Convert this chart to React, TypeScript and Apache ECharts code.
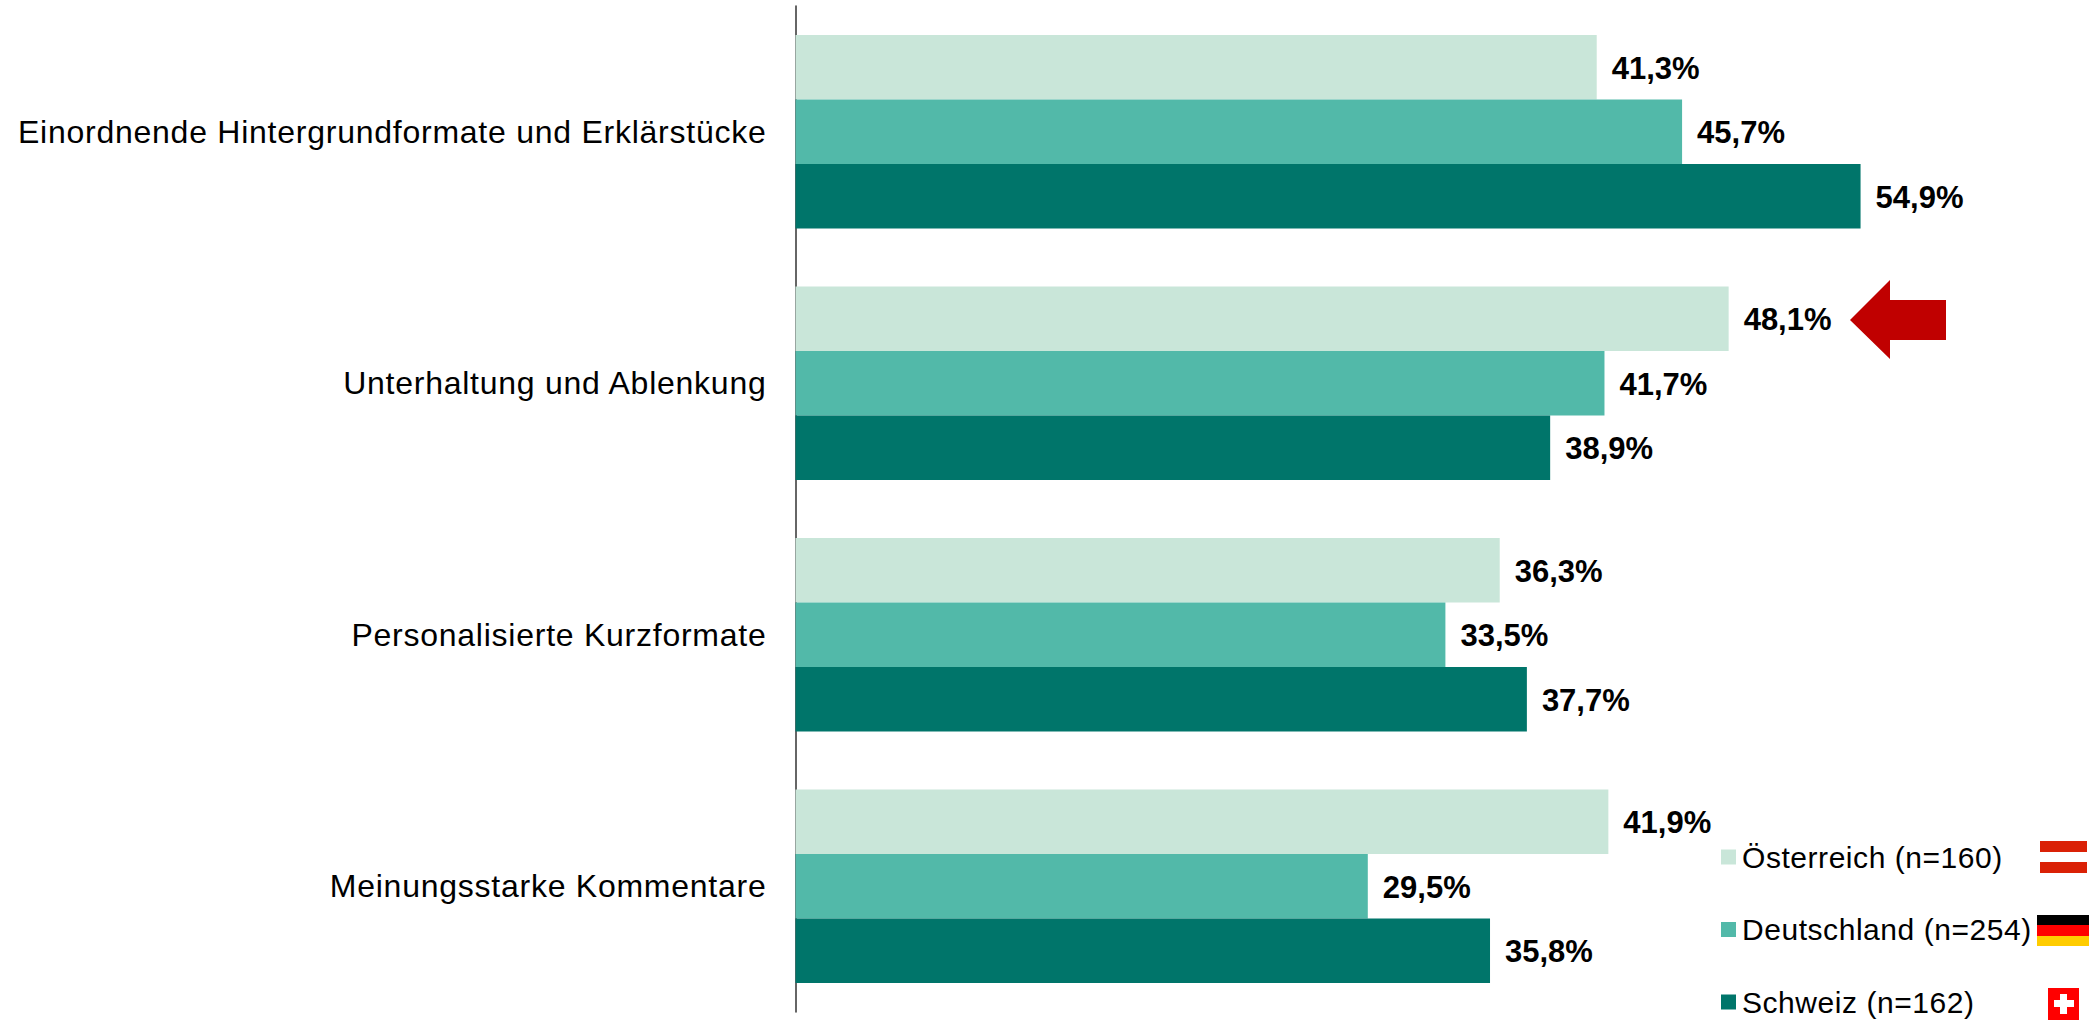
import React, { useEffect, useRef } from "react";
import * as echarts from "echarts";

const categories = [
  "Einordnende Hintergrundformate und Erklärstücke",
  "Unterhaltung und Ablenkung",
  "Personalisierte Kurzformate",
  "Meinungsstarke Kommentare",
];
const oesterreich = [41.3, 48.1, 36.3, 41.9];
const deutschland = [45.7, 41.7, 33.5, 29.5];
const schweiz = [54.9, 38.9, 37.7, 35.8];
const seriesNames = ["Österreich (n=160)", "Deutschland (n=254)", "Schweiz (n=162)"];
const colors = ["#C9E6D9", "#52B9A9", "#00756A"];
const FONT = "'Liberation Sans', Arial, sans-serif";

const fmt = (p: any) => p.value.toFixed(1).replace(".", ",") + "%";

function makeSeries(name: string, data: number[], color: string) {
  return {
    type: "bar",
    name,
    data,
    barGap: 0,
    barCategoryGap: "23%",
    itemStyle: { color },
    label: {
      show: true,
      position: "right",
      distance: 15,
      offset: [0, 1],
      formatter: fmt,
      color: "#000",
      fontFamily: FONT,
      fontWeight: "bold",
      fontSize: 31,
    },
  };
}

export default function App() {
  const ref = useRef<HTMLDivElement>(null);
  useEffect(() => {
    document.body.style.margin = "0";
    const chart = echarts.init(ref.current!, undefined, { renderer: "svg" });
    chart.setOption({
      animation: false,
      backgroundColor: "#fff",
      grid: { left: 795.5, top: 6, width: 1164, height: 1006, containLabel: false },
      xAxis: { type: "value", min: 0, max: 60, show: false },
      yAxis: {
        type: "category",
        inverse: true,
        data: categories,
        axisLine: { show: true, lineStyle: { color: "#333", width: 1.5 } },
        axisTick: { show: false },
        axisLabel: { margin: 29, color: "#000", fontFamily: FONT, fontSize: 32 },
      },
      legend: {
        orient: "vertical",
        left: 1721,
        top: 842,
        itemWidth: 15,
        itemHeight: 15,
        itemGap: 42.5,
        icon: "rect",
        padding: 0,
        data: seriesNames,
        textStyle: { color: "#000", fontFamily: FONT, fontSize: 30, padding: [0, 0, 0, 1] },
      },
      series: [
        makeSeries(seriesNames[0], oesterreich, colors[0]),
        makeSeries(seriesNames[1], deutschland, colors[1]),
        makeSeries(seriesNames[2], schweiz, colors[2]),
      ],
      graphic: [
        { type: "polygon", shape: { points: [[1850, 320], [1890, 280], [1890, 300], [1946, 300], [1946, 340], [1890, 340], [1890, 359]] }, style: { fill: "#C00000" } },
        { type: "rect", shape: { x: 2040, y: 841, width: 47, height: 11 }, style: { fill: "#DA2106" } },
        { type: "rect", shape: { x: 2040, y: 862, width: 47, height: 11 }, style: { fill: "#DA2106" } },
        { type: "rect", shape: { x: 2037, y: 915, width: 52, height: 10 }, style: { fill: "#000" } },
        { type: "rect", shape: { x: 2037, y: 925, width: 52, height: 11 }, style: { fill: "#FF0000" } },
        { type: "rect", shape: { x: 2037, y: 936, width: 52, height: 10 }, style: { fill: "#FFCC00" } },
        { type: "rect", shape: { x: 2048, y: 988, width: 31, height: 32 }, style: { fill: "#FF0000" } },
        { type: "rect", shape: { x: 2054, y: 1000, width: 20, height: 7 }, style: { fill: "#fff" } },
        { type: "rect", shape: { x: 2060, y: 994, width: 7, height: 20 }, style: { fill: "#fff" } },
      ],
    });
    return () => chart.dispose();
  }, []);
  return (
    <div ref={ref} className="chart" style={{ width: 2098, height: 1020 }}>
      <style>{`.chart svg text[style*="32px"]{letter-spacing:0.75px}.chart svg text[style*="30px"]{letter-spacing:0.55px}`}</style>
    </div>
  );
}
